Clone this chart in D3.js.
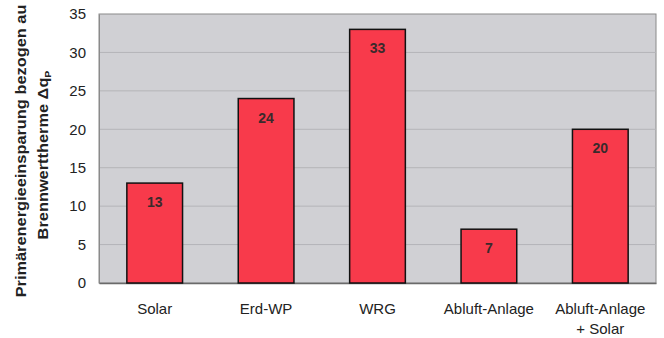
<!DOCTYPE html>
<html><head><meta charset="utf-8">
<script src="https://cdn.jsdelivr.net/npm/d3@7"></script>
<style>body{margin:0;background:#fff}svg{display:block}</style>
</head><body>
<svg id="c" width="664" height="338"></svg>
<script>
const categories = [["Solar"], ["Erd-WP"], ["WRG"], ["Abluft-Anlage"], ["Abluft-Anlage", "+ Solar"]];
const values = [13, 24, 33, 7, 20];
const yTicks = [0, 5, 10, 15, 20, 25, 30, 35];
const yTitle1 = "Primärenergieeinsparung bezogen au";
const yTitle2 = "Brennwerttherme Δq";
const yTitleSub = "P";

const svg = d3.select("#c");
const m = {l: 99, r: 656, t: 14, b: 283};
const x = d3.scaleBand().domain(d3.range(values.length)).range([m.l, m.r]).paddingInner(0.5).paddingOuter(0.25);
const y = d3.scaleLinear().domain([0, 35]).range([m.b, m.t]);

svg.append("rect").attr("x", m.l).attr("y", m.t).attr("width", m.r - m.l).attr("height", m.b - m.t)
  .attr("fill", "#d0d0d4").attr("stroke", "#8a8a8a").attr("stroke-width", 1);

svg.append("g").selectAll("line").data(yTicks.slice(1, -1)).join("line")
  .attr("x1", m.l).attr("x2", m.r).attr("y1", d => y(d)).attr("y2", d => y(d))
  .attr("stroke", "#b4b4b8").attr("stroke-width", 1);

const ax = svg.append("g").attr("transform", `translate(${m.l},0)`)
  .call(d3.axisLeft(y).tickValues(yTicks).tickSize(0).tickPadding(13));
ax.select(".domain").attr("stroke", "#8a8a8a");
ax.selectAll("text").attr("font-family", "Liberation Sans, Arial, sans-serif").attr("font-size", 15).attr("fill", "#222");

const xa = svg.append("g").attr("transform", `translate(0,${m.b})`)
  .call(d3.axisBottom(x).tickSize(0).tickFormat(""));
xa.select(".domain").attr("stroke", "#6a6a6a").attr("stroke-width", 1.5);

svg.append("g").selectAll("rect").data(values).join("rect")
  .attr("x", (d, i) => x(i)).attr("width", x.bandwidth())
  .attr("y", d => y(d)).attr("height", d => y(0) - y(d))
  .attr("fill", "#f83a4b").attr("stroke", "#111").attr("stroke-width", 1.5);

svg.append("g").selectAll("text").data(values).join("text")
  .attr("x", (d, i) => x(i) + x.bandwidth() / 2).attr("y", d => y(d) + 24)
  .attr("text-anchor", "middle").attr("font-family", "Liberation Sans, Arial, sans-serif")
  .attr("font-weight", "bold").attr("font-size", 14).attr("fill", "#3a2a2c").text(d => d);

const lab = svg.append("g").selectAll("text").data(categories).join("text")
  .attr("text-anchor", "middle").attr("font-family", "Liberation Sans, Arial, sans-serif")
  .attr("font-size", 15).attr("fill", "#222")
  .attr("transform", (d, i) => `translate(${x(i) + x.bandwidth() / 2},314)`);
lab.selectAll("tspan").data(d => d).join("tspan").attr("x", 0).attr("dy", (d, j) => j ? 20 : 0).text(d => d);

const tf = "Liberation Sans, Arial, sans-serif";
svg.append("text").attr("transform", "translate(25.5,151) rotate(-90) scale(1.17,1)").attr("text-anchor", "middle")
  .attr("font-family", tf).attr("font-weight", "bold").attr("font-size", 14).attr("fill", "#222").text(yTitle1);
const t2 = svg.append("text").attr("transform", "translate(47.5,155) rotate(-90) scale(1.17,1)").attr("text-anchor", "middle")
  .attr("font-family", tf).attr("font-weight", "bold").attr("font-size", 14).attr("fill", "#222");
t2.append("tspan").text(yTitle2);
t2.append("tspan").attr("font-size", 9).attr("dy", 3).text(yTitleSub);
</script>
</body></html>
